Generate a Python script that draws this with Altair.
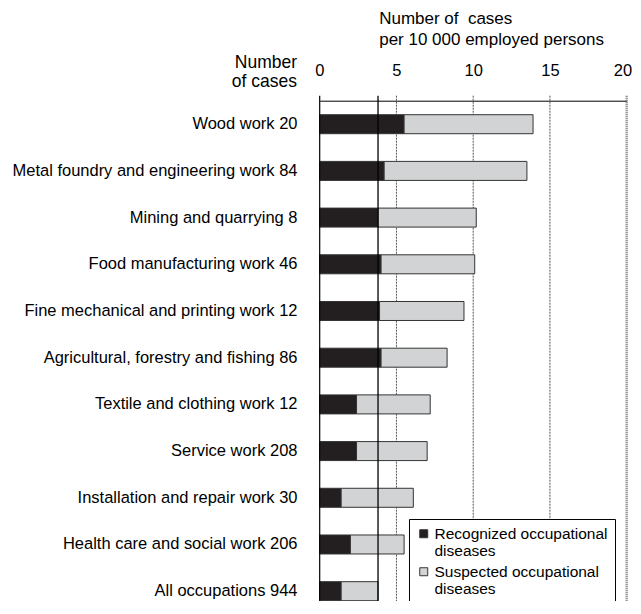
import altair as alt
import pandas as pd

categories = [
    "Wood work 20",
    "Metal foundry and engineering work 84",
    "Mining and quarrying 8",
    "Food manufacturing work 46",
    "Fine mechanical and printing work 12",
    "Agricultural, forestry and fishing 86",
    "Textile and clothing work 12",
    "Service work 208",
    "Installation and repair work 30",
    "Health care and social work 206",
    "All occupations 944",
]
recognized = [5.5, 4.2, 3.8, 4.0, 3.9, 4.0, 2.4, 2.4, 1.4, 2.0, 1.4]
total = [13.9, 13.5, 10.2, 10.1, 9.4, 8.3, 7.2, 7.0, 6.1, 5.5, 3.8]
series_names = ["Recognized occupational diseases", "Suspected occupational diseases"]
series_colors = ["#231f20", "#d1d3d4"]
reference_line = [3.8]
x_ticks = [0, 5, 10, 15, 20]
x_title = ["Number of\u00a0 cases", "per 10 000 employed persons"]
left_header = ["Number", "of cases"]

rows = []
for c, r, t in zip(categories, recognized, total):
    rows.append({"category": c, "series": series_names[0], "start": 0, "end": r})
    rows.append({"category": c, "series": series_names[1], "start": r, "end": t})
df = pd.DataFrame(rows)

W, H = 307, 500      # visible plot area
BAND_RANGE = 514     # full band range (continues below the visible page)

xscale = alt.Scale(domain=[0, 20], nice=False)

bars = alt.Chart(df).mark_bar(stroke="#333333", strokeWidth=1).encode(
    y=alt.Y(
        "category:N",
        sort=categories,
        scale=alt.Scale(paddingInner=0.593, paddingOuter=0.3, range=[0, BAND_RANGE]),
        axis=alt.Axis(
            title=None, orient="left", ticks=False, domain=False,
            labelFontSize=16.5, labelPadding=22.7, labelLimit=400,
            labelColor="black", grid=False,
        ),
    ),
    x=alt.X(
        "start:Q",
        scale=xscale,
        axis=alt.Axis(
            orient="top", values=x_ticks, grid=False, ticks=False,
            domainColor="black", domainWidth=1,
            labelFontSize=16.5, labelPadding=22, labelColor="black",
            labelFlush=True, labelFlushOffset=5,
            title=x_title, titleFontSize=17, titleFontWeight="normal", titleColor="black",
            titleAlign="left", titleAnchor="start", titleX=59, titleY=-77,
            titleBaseline="alphabetic", titleLineHeight=21,
        ),
    ),
    x2="end:Q",
    color=alt.Color(
        "series:N",
        scale=alt.Scale(domain=series_names, range=series_colors),
        legend=alt.Legend(
            title="", orient="none", legendX=89.3, legendY=418.3, direction="vertical",
            strokeColor="black", fillColor="white", padding=7,
            labelFontSize=15.5, labelColor="black", labelLimit=400,
            labelExpr="[slice(datum.label, 0, indexof(datum.label, ' diseases')), 'diseases']",
            labelBaseline="middle", labelOffset=3,
            symbolType="square", symbolSize=64, symbolStrokeColor="#333333",
            symbolStrokeWidth=1, rowPadding=4,
        ),
    ),
)

tick_df = pd.DataFrame({"v": x_ticks})

grid = alt.Chart(tick_df).transform_filter(
    "datum.v > 0 && datum.v < 20"
).mark_rule(color="#555555", strokeWidth=1, strokeDash=[2, 1]).encode(
    x=alt.X("v:Q", scale=xscale), y=alt.value(-5), y2=alt.value(BAND_RANGE)
)

right_edge = alt.Chart(tick_df).transform_filter("datum.v == 20").mark_rule(
    color="#777777", strokeWidth=2.5, strokeDash=[1, 1]
).encode(x=alt.X("v:Q", scale=xscale), y=alt.value(-5), y2=alt.value(BAND_RANGE))

left_edge = alt.Chart(tick_df).transform_filter("datum.v == 0").mark_rule(
    color="black", strokeWidth=1.2
).encode(x=alt.X("v:Q", scale=xscale), y=alt.value(-5), y2=alt.value(BAND_RANGE))

rule = alt.Chart(pd.DataFrame({"v": reference_line})).mark_rule(
    color="black", strokeWidth=1.3
).encode(x=alt.X("v:Q", scale=xscale), y=alt.value(-5), y2=alt.value(BAND_RANGE))

header = alt.Chart(pd.DataFrame({"t": ["\n".join(left_header)]})).mark_text(
    align="right", baseline="alphabetic", fontSize=17.5, lineBreak="\n",
    lineHeight=19, color="black"
).encode(x=alt.value(-22.7), y=alt.value(-32.7), text="t:N")

chart = alt.layer(grid, right_edge, bars, left_edge, rule, header).properties(
    width=W, height=H,
    autosize=alt.AutoSizeParams(type="none"),
    padding={"left": 311.7, "top": 92.7, "right": 6, "bottom": 0},
).configure(font="Liberation Sans").configure_view(stroke="transparent")

chart.save("out.html", embed_options={"renderer": "svg", "actions": False})
